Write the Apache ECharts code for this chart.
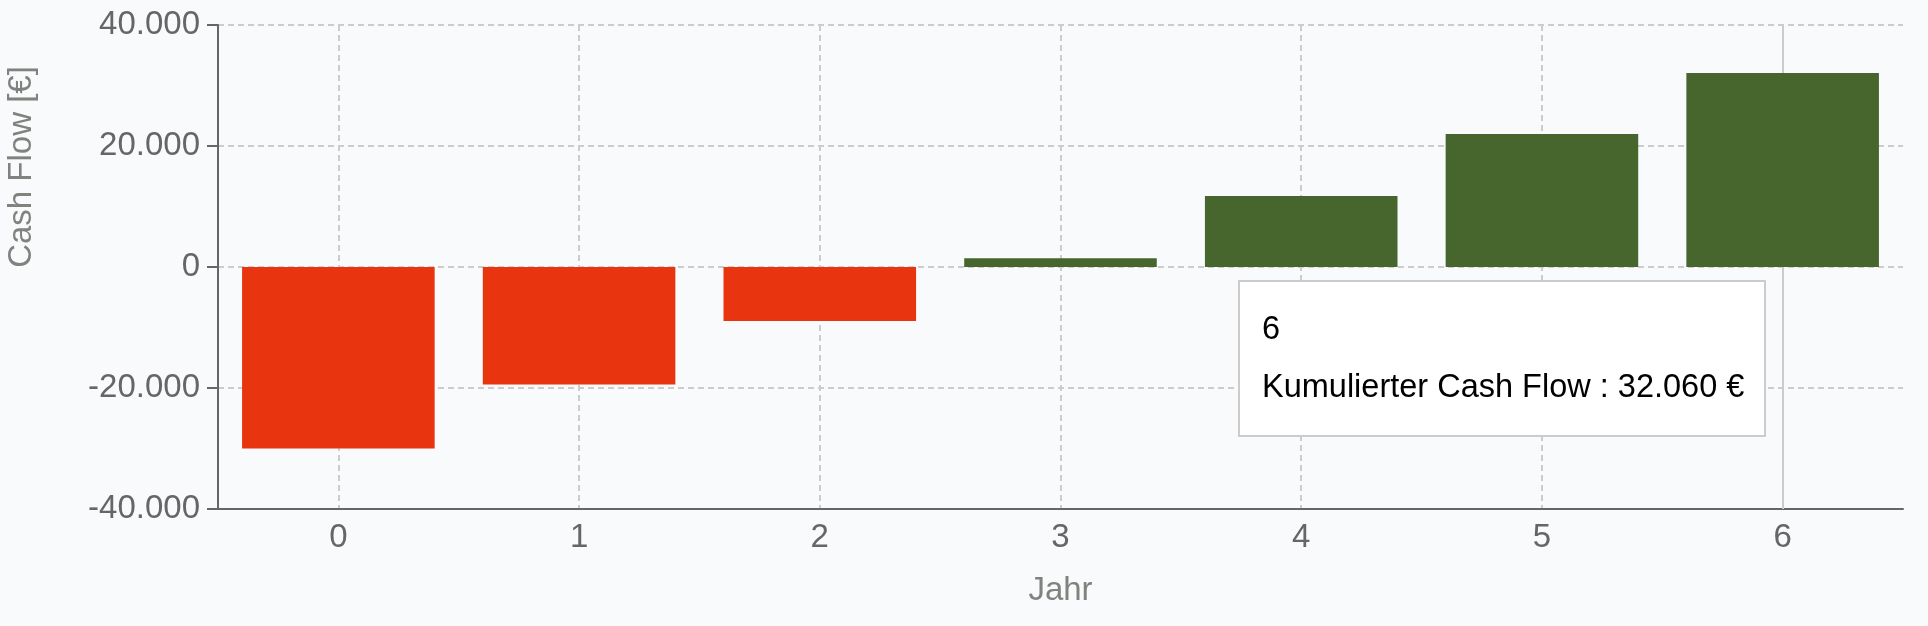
<!DOCTYPE html>
<html>
<head>
<meta charset="utf-8">
<script src="https://cdn.jsdelivr.net/npm/echarts@6/dist/echarts.min.js"></script>
<style>
  html, body { margin: 0; padding: 0; background: #f9fafc; }
  #chart { width: 1928px; height: 626px; }
</style>
</head>
<body>
<div id="chart"></div>
<script>
// Jahre und kumulierter Cash Flow
const years = ['0', '1', '2', '3', '4', '5', '6'];
const cumulated = [-30000, -19420, -8940, 1440, 11750, 21970, 32060];
const yTicks = { min: -40000, max: 40000, interval: 20000 };

function fmt(v) {
  // deutsche Tausenderpunkte
  const s = String(Math.abs(Math.round(v))).replace(/\B(?=(\d{3})+(?!\d))/g, '.');
  return (v < 0 ? '-' : '') + s;
}

const chart = echarts.init(document.getElementById('chart'));
const font = 'Liberation Sans, Helvetica, Arial, sans-serif';

const option = {
  backgroundColor: '#f9fafc',
  animation: false,
  textStyle: { fontFamily: font },
  grid: { left: 218, right: 25, top: 25, bottom: 117, containLabel: false, outerBoundsMode: 'none' },
  tooltip: {
    trigger: 'axis',
    alwaysShowContent: true,
    transitionDuration: 0,
    position: [1238, 280],
    backgroundColor: '#fff',
    borderColor: '#ccc',
    borderWidth: 2,
    padding: [17, 20, 20, 22],
    extraCssText: 'box-shadow:none;border-radius:0;',
    axisPointer: {
      type: 'line',
      z: 1,
      triggerEmphasis: false,
      lineStyle: { color: '#ccc', width: 2, type: 'solid' }
    },
    formatter: function (params) {
      const p = params[0];
      return '<div style="font-family:' + font + ';font-size:32.5px;color:#000;line-height:58px">' +
        '<div>' + p.name + '</div>' +
        '<div>' + p.seriesName + ' : ' + fmt(p.value) + ' €</div></div>';
    }
  },
  xAxis: {
    type: 'category',
    data: years,
    name: 'Jahr',
    nameLocation: 'middle',
    nameGap: 65,
    nameTextStyle: { color: '#80837d', fontSize: 33 },
    axisLine: { onZero: false, lineStyle: { color: '#666', width: 2 } },
    axisTick: { alignWithLabel: true, length: 11, lineStyle: { color: '#666', width: 2 } },
    axisLabel: { color: '#666', fontSize: 33, margin: 12 },
    splitLine: { show: true, alignWithLabel: true, lineStyle: { color: '#ccc', width: 2, type: [6, 4] } }
  },
  yAxis: {
    type: 'value',
    min: yTicks.min,
    max: yTicks.max,
    interval: yTicks.interval,
    name: 'Cash Flow [€]',
    nameLocation: 'middle',
    nameRotate: 90,
    nameGap: 180,
    nameTextStyle: { color: '#80837d', fontSize: 33, padding: [0, 0, 0, 200] },
    axisLine: { show: true, lineStyle: { color: '#666', width: 2 } },
    axisTick: { show: true, length: 11, lineStyle: { color: '#666', width: 2 } },
    axisLabel: { color: '#666', fontSize: 33, margin: 18, formatter: fmt },
    splitLine: { lineStyle: { color: '#ccc', width: 2, type: [6, 4] } }
  },
  series: [{
    name: 'Kumulierter Cash Flow',
    type: 'bar',
    data: cumulated,
    barCategoryGap: '20%',
    z: 2,
    emphasis: { disabled: true },
    itemStyle: {
      color: function (p) { return p.value < 0 ? '#e8340f' : '#47662d'; }
    }
  }]
};

chart.setOption(option);
chart.dispatchAction({ type: 'showTip', seriesIndex: 0, dataIndex: 6 });
</script>
</body>
</html>
